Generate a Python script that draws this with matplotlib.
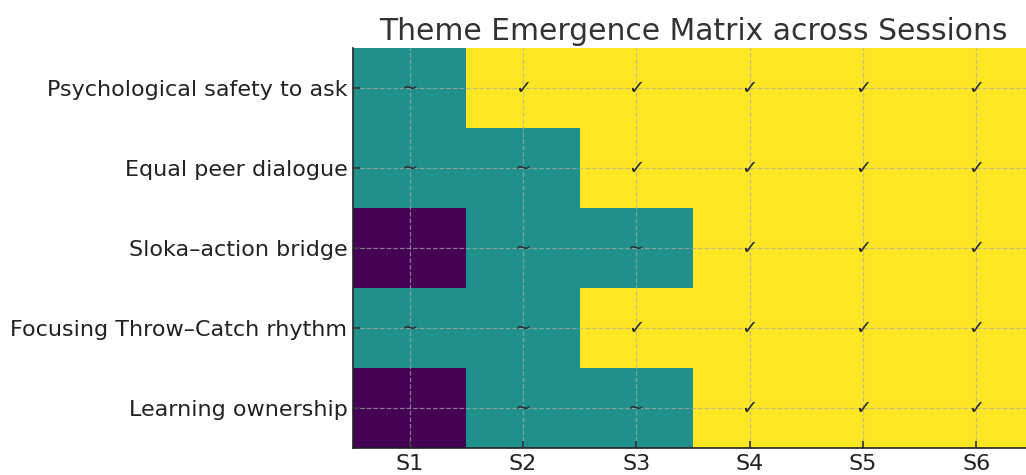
import numpy as np
import matplotlib
matplotlib.use("Agg")
import matplotlib.pyplot as plt

# Theme emergence: 0 = absent, 1 = partial (~), 2 = present (✓)
themes = [
    "Psychological safety to ask",
    "Equal peer dialogue",
    "Sloka–action bridge",
    "Focusing Throw–Catch rhythm",
    "Learning ownership",
]
sessions = ["S1", "S2", "S3", "S4", "S5", "S6"]
psych_safety = [1, 2, 2, 2, 2, 2]
peer_dialogue = [1, 1, 2, 2, 2, 2]
sloka_bridge = [0, 1, 1, 2, 2, 2]
throw_catch = [1, 1, 2, 2, 2, 2]
ownership = [0, 1, 1, 2, 2, 2]
symbols = {0: "", 1: "~", 2: "✓"}

matrix = np.array([psych_safety, peer_dialogue, sloka_bridge, throw_catch, ownership])

fig = plt.figure(figsize=(10.26, 4.75), dpi=100)
# the right edge of the heatmap runs slightly past the figure, as in the reference
ax = fig.add_axes([353 / 1026, 27 / 475, 680 / 1026, 400 / 475])
ax.imshow(matrix, cmap="viridis", aspect="auto", vmin=0, vmax=2)

for i in range(matrix.shape[0]):
    for j in range(matrix.shape[1]):
        ax.text(j, i, symbols[matrix[i, j]], ha="center", va="center",
                fontsize=14, color="#2a2a2a")

ax.set_xticks(range(len(sessions)))
ax.set_xticklabels(sessions)
ax.set_yticks(range(len(themes)))
ax.set_yticklabels(themes)
ax.tick_params(labelsize=16, colors="#333333", direction="in", length=5,
               width=1.2, pad=4)
for lbl in ax.get_xticklabels() + ax.get_yticklabels():
    lbl.set_color("#222222")
ax.grid(True, linestyle="--", color="#aaaaaa", alpha=0.7, linewidth=0.9)
ax.spines["top"].set_visible(False)
ax.spines["right"].set_visible(False)
ax.spines["left"].set_color("#222222")
ax.spines["bottom"].set_color("#222222")
ax.spines["left"].set_linewidth(1.2)
ax.spines["bottom"].set_linewidth(1.2)
ax.set_title("Theme Emergence Matrix across Sessions", fontsize=21.4, color="#333333", pad=6)

fig.savefig("out.png", dpi=100)
